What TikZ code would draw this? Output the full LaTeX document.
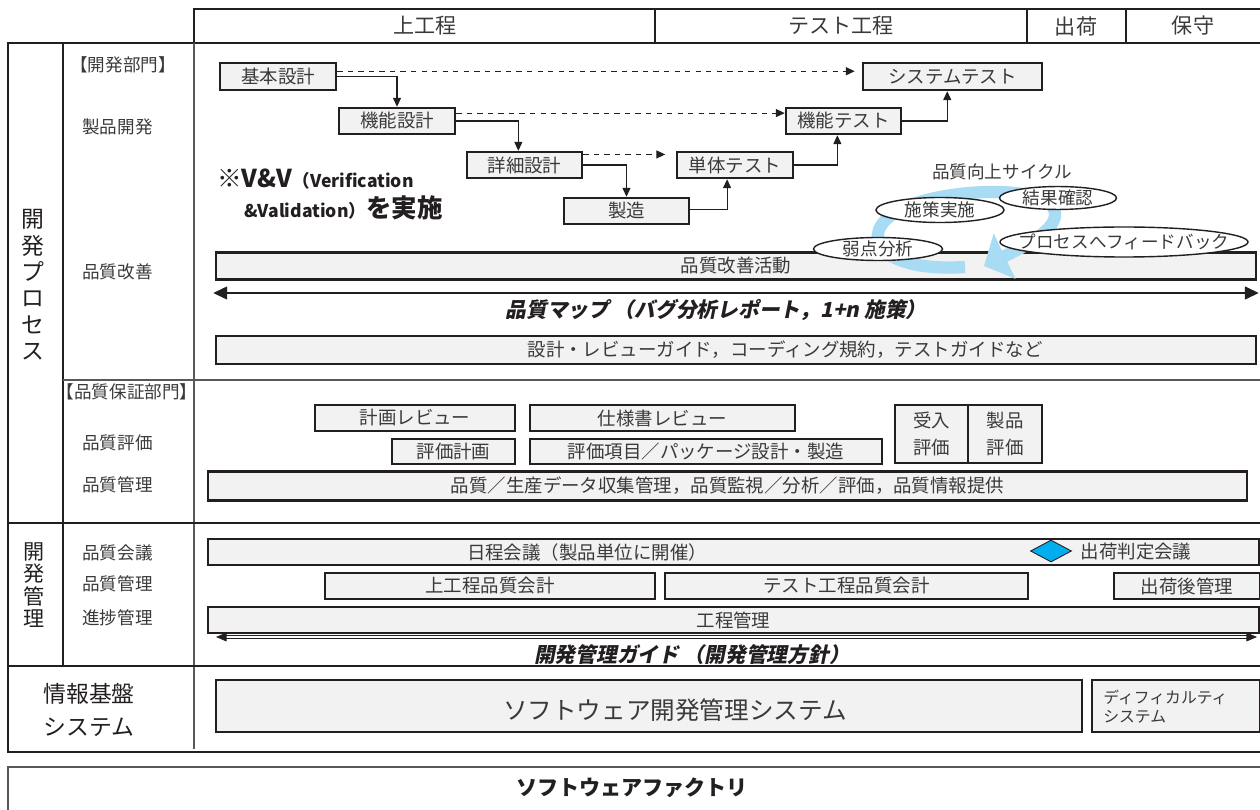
\documentclass[tikz,border=0pt]{standalone}
\usepackage{fontspec}
\setmainfont{Noto Sans CJK JP}
\newfontfamily\slantjp{Noto Sans CJK JP}[FakeSlant=0.2]
\usetikzlibrary{arrows.meta,shapes.geometric}

\definecolor{linec}{HTML}{231F20}
\definecolor{boxfill}{HTML}{F2F2F2}
\definecolor{textc}{HTML}{3A3A3A}
\definecolor{cyclebl}{HTML}{A8DCF5}
\definecolor{judgebl}{HTML}{00AEEF}

\tikzset{
    pbox/.style={draw=linec, line width=1.4pt, fill=boxfill, text=textc,
        inner sep=0pt, font=\fontsize{10.5}{12}\selectfont},
    bw/.style={minimum width=#1*0.02cm},
    bh/.style={minimum height=#1*0.02cm},
    oval/.style={ellipse, draw=linec, line width=0.8pt, fill=white, text=textc,
        inner ysep=0pt, inner xsep=-10pt, font=\fontsize{10}{12}\selectfont},
    plaintext/.style={text=textc, inner sep=0pt, font=\fontsize{10.5}{12}\selectfont},
    rowlabel/.style={plaintext, anchor=west, font=\fontsize{10}{12}\selectfont},
    vlabel/.style={align=center, text=linec, inner sep=0pt},
    headtext/.style={plaintext, font=\fontsize{12}{14}\selectfont},
    guidetext/.style={text=linec, inner sep=0pt,
        font=\slantjp\bfseries\fontsize{11.8}{13}\selectfont},
    gridline/.style={draw=linec, line width=1.1pt},
    thinframe/.style={draw=linec!75, line width=0.7pt},
    flowline/.style={draw=linec, line width=0.6pt, ->},
}

\begin{document}
\begin{tikzpicture}[x=0.02cm, y=-0.02cm, >={Triangle[length=5pt,width=4.5pt]}]
    \useasboundingbox (0, 0) rectangle (1260, 810);

    \draw [gridline] (194, 9) rectangle (1290, 43);
    \draw [gridline] (655, 9) -- (655, 43);
    \draw [gridline] (1027, 9) -- (1027, 43);
    \draw [gridline] (1126, 9) -- (1126, 43);
    \node [headtext] (upper) at (425, 26) {上工程};
    \node [headtext] (testph) at (841, 26) {テスト工程};
    \node [headtext] (ship) at (1076, 26) {出荷};
    \node [headtext] (maint) at (1193, 26) {保守};

    \draw [gridline] (1290, 43) -- (8, 43) -- (8, 752) -- (1290, 752);
    \draw [gridline] (63, 43) -- (63, 666);
    \draw [thinframe] (194, 43) -- (194, 749);
    \draw [thinframe] (63, 380) -- (1290, 380);
    \draw [gridline] (8, 523) -- (1290, 523);
    \draw [gridline] (8, 666) -- (1290, 666);
    \draw [thinframe] (8, 767) rectangle (1290, 840);

    \node [vlabel, font=\fontsize{13}{15}\selectfont] (devproc) at (33, 285)
        {開\\発\\プ\\ロ\\セ\\ス};
    \node [vlabel, font=\fontsize{12}{12.8}\selectfont] (devmgmt) at (34, 585)
        {開\\発\\管\\理};
    \node [vlabel, font=\fontsize{13}{19}\selectfont] (infra) at (89, 710)
        {情報基盤\\システム};

    \node [plaintext, font=\fontsize{10}{12}\selectfont] (devdept) at (123, 65) {【開発部門】};
    \node [rowlabel] (proddev) at (82, 127) {製品開発};
    \node [rowlabel] (qimprove) at (82, 272) {品質改善};
    \node [plaintext, font=\fontsize{10}{12}\selectfont] (qadept) at (127, 392) {【品質保証部門】};
    \node [rowlabel] (qeval) at (82, 443) {品質評価};
    \node [rowlabel] (qctrl) at (82, 485) {品質管理};
    \node [rowlabel] (qmeet) at (82, 553) {品質会議};
    \node [rowlabel] (qctrlb) at (82, 584) {品質管理};
    \node [rowlabel] (progress) at (82, 618) {進捗管理};

    \node [pbox, bw=116, bh=27] (basic) at (278, 76.5) {基本設計};
    \node [pbox, bw=116, bh=26] (funcdes) at (397, 121) {機能設計};
    \node [pbox, bw=115, bh=26] (detail) at (524.5, 165) {詳細設計};
    \node [pbox, bw=125, bh=26] (build) at (626.5, 211) {製造};
    \node [pbox, bw=116, bh=26] (unit) at (735, 165) {単体テスト};
    \node [pbox, bw=115, bh=26] (functest) at (843.5, 121) {機能テスト};
    \node [pbox, bw=179, bh=27] (systest) at (952.5, 76.5) {システムテスト};

    \draw [flowline, dashed] ([yshift=3pt]basic.east) -- ([yshift=3pt, xshift=-4pt]systest.west);
    \draw [flowline] (basic.east) -| (funcdes.north);
    \draw [flowline, dashed] ([yshift=4.5pt]funcdes.east) -- ([yshift=4.5pt]functest.west);
    \draw [flowline] (funcdes.east) -| ([xshift=-3.5pt]detail.north);
    \draw [flowline, dashed] ([yshift=6pt]detail.east) -- ([yshift=6pt, xshift=-6pt]unit.west);
    \draw [flowline] (detail.east) -| (build.north);
    \draw [flowline] ([yshift=1pt]build.east) -| ([xshift=-4.5pt]unit.south);
    \draw [flowline] (unit.east) -| ([xshift=-3.5pt]functest.south);
    \draw [flowline] (functest.east) -| ([xshift=-3pt]systest.south);

    \node [anchor=west, inner sep=0pt, text=linec, font=\bfseries\fontsize{14}{16}\selectfont]
        (vvone) at (217, 179) {※V\&V{\fontsize{10}{11}\selectfont（Verification}};
    \node [anchor=west, inner sep=0pt, text=linec, font=\bfseries\fontsize{14.5}{16}\selectfont]
        (vvtwo) at (244, 208) {{\fontsize{10}{11}\selectfont\&Validation）}を実施};

    \node [pbox, bw=1040, bh=27] (kaizen) at (736, 266) {品質改善活動};

    \node [plaintext, font=\fontsize{10}{12}\selectfont] (cycle) at (1002, 172) {品質向上サイクル};
    \draw [cyclebl, line width=7pt, -{Triangle[length=13pt, width=28pt]}]
        (965, 267) .. controls (885, 272) and (860, 240) .. (890, 216)
        .. controls (920, 191) and (1030, 182) .. (1052, 206)
        .. controls (1066, 224) and (1030, 244) .. (984, 266);
    \node [oval, bw=128, bh=25] (action) at (940, 210) {施策実施};
    \node [oval, bw=117, bh=22] (check) at (1058, 198) {結果確認};
    \node [oval, bw=129, bh=22] (weak) at (878, 249) {弱点分析};
    \node [oval, bw=248, bh=30] (feedback) at (1124, 242) {プロセスへフィードバック};

    \coordinate (mapleft) at (213, 293);
    \coordinate (mapright) at (1259, 293);
    \draw [draw=linec, line width=1.7pt,
        {Triangle[length=8pt, width=7pt]}-{Triangle[length=8pt, width=7pt]}] (mapleft) -- (mapright);
    \node [guidetext] (qmap) at (716, 310) {品質マップ （バグ分析レポート，1+n 施策）};

    \node [pbox, bw=1040, bh=28] (guide) at (736, 350) {};
    \node [plaintext] (guidetxt) at (785, 350) {設計・レビューガイド，コーディング規約，テストガイドなど};

    \node [pbox, bw=200, bh=26] (planrev) at (415, 418) {計画レビュー};
    \node [pbox, bw=265, bh=26] (specrev) at (662.5, 418) {仕様書レビュー};
    \node [pbox, bw=123, bh=25] (evalplan) at (453.5, 451.5) {評価計画};
    \node [pbox, bw=352, bh=25] (evalitem) at (706, 451.5) {評価項目／パッケージ設計・製造};
    \node [pbox, bw=73, bh=58, align=center, font=\fontsize{10.5}{15}\selectfont] (accept) at (931.5, 434) {受入\\評価};
    \node [pbox, bw=74, bh=58, align=center, font=\fontsize{10.5}{15}\selectfont] (prodeval) at (1005, 434) {製品\\評価};
    \node [pbox, bw=1039, bh=29] (qdata) at (727.5, 486) {品質／生産データ収集管理，品質監視／分析／評価，品質情報提供};

    \node [pbox, bw=1051, bh=26] (sched) at (733.5, 552) {};
    \node [plaintext] (schedtxt) at (587, 552) {日程会議（製品単位に開催）};
    \node [diamond, draw=linec, line width=0.5pt, fill=judgebl, inner sep=0pt,
        minimum width=41*0.02cm, minimum height=22*0.02cm] (judge) at (1051, 551) {};
    \node [plaintext] (judgetxt) at (1136, 552) {出荷判定会議};
    \node [pbox, bw=330, bh=26] (upperq) at (490, 586) {上工程品質会計};
    \node [pbox, bw=363, bh=26] (testq) at (846.5, 586) {テスト工程品質会計};
    \node [pbox, bw=146, bh=26] (aftership) at (1187, 586) {出荷後管理};
    \node [pbox, bw=1051, bh=26] (process) at (733.5, 620) {工程管理};
    \coordinate (mgmtleft) at (216, 637);
    \coordinate (mgmtright) at (1257, 637);
    \draw [draw=linec, line width=0.4pt, double=white, double distance=1.4pt,
        {Triangle[length=6pt, width=5pt]}-{Triangle[length=6pt, width=5pt]}] (mgmtleft) -- (mgmtright);
    \node [guidetext] (mgmtguide) at (692, 655) {開発管理ガイド （開発管理方針）};

    \node [pbox, bw=866, bh=52] (sdms) at (649, 706) {};
    \node [plaintext, font=\fontsize{14}{16}\selectfont] (sdmstxt) at (675, 710) {ソフトウェア開発管理システム};
    \node [pbox, bw=168, bh=52] (diffsys) at (1176, 706) {};
    \node [plaintext, anchor=west, align=left, font=\fontsize{9}{10.8}\selectfont] (difftxt) at (1103, 707)
        {ディフィカルティ\\システム};

    \node [text=linec, inner sep=0pt, font=\bfseries\fontsize{12}{14}\selectfont] (factory) at (632, 788)
        {ソフトウェアファクトリ};
\end{tikzpicture}
\end{document}
